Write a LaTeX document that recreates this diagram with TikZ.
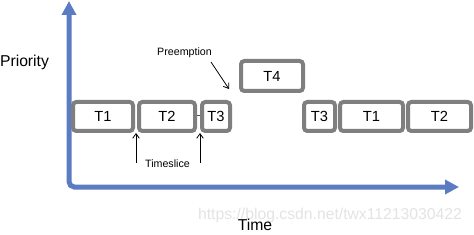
\documentclass[tikz,border=0pt]{standalone}
\usepackage{fontspec}
\setmainfont{Liberation Sans}
\usetikzlibrary{arrows.meta}
\definecolor{axisblue}{HTML}{5B7BC2}
\definecolor{boxgray}{HTML}{7F7F7F}
\begin{document}
\begin{tikzpicture}[x=0.75pt,y=-0.75pt,
  task/.style={draw=boxgray,line width=3pt,rounded corners=2.5pt,fill=white,
    inner sep=0pt,minimum height=21.75pt,font=\fontsize{11}{13}\selectfont},
  axisline/.style={draw=axisblue,line width=3.75pt,rounded corners=4pt,
    {Triangle[length=10.5pt,width=10.5pt]}-{Triangle[length=10.5pt,width=10.5pt]}},
  lbl/.style={inner sep=0pt,font=\fontsize{11.8}{14}\selectfont},
  small/.style={inner sep=0pt,font=\fontsize{8}{10}\selectfont},
  thinarrow/.style={draw=black,line width=0.6pt,-{Straight Barb[length=3.5pt,width=5pt]}}]
\useasboundingbox (0,0) rectangle (474,235);
% watermark
\node[lbl,text=black!11] (wm) at (330,215) {https://blog.csdn.net/twx11213030422};
% axes
\coordinate (ytop) at (69,1);
\coordinate (xend) at (459,187);
\draw[axisline] (ytop) |- (xend);
\node[lbl] (prio) at (24.5,62) {Priority};
\node[lbl] (time) at (255,225) {Time};
% tasks
\node[task,minimum width=45pt] (t1) at (103,116.5) {T1};
\node[task,minimum width=42pt] (t2) at (167,116.5) {T2};
\node[task,minimum width=21pt] (t3) at (216,116.5) {T3};
\node[task,minimum width=46.5pt,minimum height=22.5pt] (t4) at (272,76) {T4};
\node[task,minimum width=23.25pt] (t3b) at (319.5,116.5) {T3};
\node[task,minimum width=47.25pt] (t1b) at (371.5,116.5) {T1};
\node[task,minimum width=47.25pt] (t2b) at (439.5,116.5) {T2};
\draw[draw=black!70,line width=0.75pt] (197,116) -- (200,116);
% labels and arrows
\node[small] (pre) at (184.5,53) {Preemption};
\coordinate (preA) at (211,62);
\coordinate (preB) at (229,89);
\draw[thinarrow] (preA) -- (preB);
\node[small] (ts) at (167.5,164) {Timeslice};
\coordinate (s1a) at (136,163);
\coordinate (s1b) at (136,133);
\coordinate (s2a) at (200,163);
\coordinate (s2b) at (200,133);
\draw[thinarrow] (s1a) -- (s1b);
\draw[thinarrow] (s2a) -- (s2b);
\end{tikzpicture}
\end{document}
